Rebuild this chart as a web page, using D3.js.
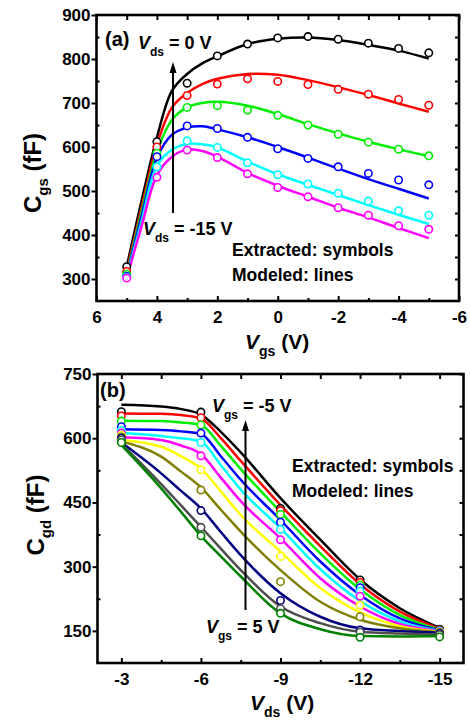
<!DOCTYPE html>
<html>
<head>
<meta charset="utf-8">
<script src="https://cdn.jsdelivr.net/npm/d3@7"></script>
<style>
  body { margin: 0; background: #fff; }
  svg { display: block; font-family: "Liberation Sans", Arial, sans-serif; font-weight: bold; }
</style>
</head>
<body>
<svg id="fig" width="470" height="721"></svg>
<script>
// ---------- (a) Cgs versus Vgs, one curve per Vds ----------
const vgsPoints = [5, 4, 3, 2, 1, 0, -1, -2, -3, -4, -5];
const vgsModelGrid = [5, 4.5, 4, 3.5, 3, 2.5, 2, 1, 0, -1, -2, -3, -4, -5];
const vdsLevels = [0, -3, -6, -9, -12, -15];
const cgsColors = ["#000000", "#ff0000", "#00ee00", "#0000ff", "#00ffff", "#ff00ff"];

// extracted Cgs (fF) at vgsPoints
const cgsExtVds0   = [328, 612, 745, 807, 834, 848, 851, 845, 836, 824, 814];
const cgsExtVds3   = [317, 600, 717, 743, 755, 749, 742, 731, 720, 708, 695];
const cgsExtVds6   = [311, 586, 690, 694, 684, 672, 650, 629, 611, 595, 580];
const cgsExtVds9   = [306, 578, 648, 642, 622, 596, 574, 555, 540, 525, 514];
const cgsExtVds12  = [304, 555, 614, 599, 564, 537, 516, 495, 477, 455, 445];
const cgsExtVds15  = [302, 531, 593, 576, 539, 508, 487, 462, 445, 421, 413];

// modeled Cgs (fF) at vgsModelGrid
const cgsModVds0   = [328, 480, 622, 728, 766, 790, 806, 834, 846, 849, 843, 832, 819, 801];
const cgsModVds3   = [317, 465, 605, 690, 723, 743, 755, 766, 764, 752, 736, 718, 699, 680];
const cgsModVds6   = [311, 455, 589, 662, 690, 700, 703, 694, 675, 652, 631, 612, 595, 579];
const cgsModVds9   = [307, 445, 575, 628, 644, 647, 640, 622, 600, 576, 551, 527, 505, 483];
const cgsModVds12  = [304, 433, 557, 594, 607, 606, 599, 567, 538, 514, 491, 468, 446, 425];
const cgsModVds15  = [302, 422, 536, 578, 594, 591, 578, 541, 512, 487, 462, 440, 416, 393];

const cgsExtracted = [cgsExtVds0, cgsExtVds3, cgsExtVds6, cgsExtVds9, cgsExtVds12, cgsExtVds15];
const cgsModeled   = [cgsModVds0, cgsModVds3, cgsModVds6, cgsModVds9, cgsModVds12, cgsModVds15];

const cgsXMajor = [6, 4, 2, 0, -2, -4, -6];
const cgsXMinor = [5, 3, 1, -1, -3, -5];
const cgsYMajor = [300, 400, 500, 600, 700, 800, 900];
const cgsYMinor = [350, 450, 550, 650, 750, 850];

// ---------- (b) Cgd versus Vds, one curve per Vgs ----------
const vdsPoints = [-3, -6, -9, -12, -15];
const vdsModelGrid = [-3, -4.5, -5.25, -6, -6.75, -7.5, -9, -10.5, -12, -13.5, -15];
const vgsLevels = [-5, -4, -3, -2, -1, 0, 1, 2, 3, 4, 5];
const cgdColors = ["#000000", "#ff0000", "#00ee00", "#0000ff", "#00ffff", "#ff00ff",
                   "#ffff00", "#808000", "#000080", "#4d4d4d", "#008000"];

// extracted Cgd (fF) at vdsPoints
const cgdExtVgsM5 = [662, 661, 436, 269, 154];
const cgdExtVgsM4 = [652, 648, 431, 263, 152];
const cgdExtVgsM3 = [640, 631, 422, 257, 151];
const cgdExtVgsM2 = [627, 612, 404, 251, 150];
const cgdExtVgsM1 = [618, 590, 387, 243, 149];
const cgdExtVgs0  = [612, 559, 363, 231, 148];
const cgdExtVgs1  = [607, 526, 324, 210, 147];
const cgdExtVgs2  = [603, 479, 265, 183, 146];
const cgdExtVgs3  = [600, 431, 221, 152, 144];
const cgdExtVgs4  = [596, 392, 202, 147, 141];
const cgdExtVgs5  = [590, 372, 191, 135, 136];

// modeled Cgd (fF) at vdsModelGrid
const cgdModVgsM5 = [678, 674, 668, 655, 615, 567, 460, 363, 270, 203, 157];
const cgdModVgsM4 = [658, 657, 654, 646, 600, 547, 444, 348, 259, 195, 155];
const cgdModVgsM3 = [641, 640, 637, 631, 582, 528, 428, 331, 247, 187, 153];
const cgdModVgsM2 = [621, 619, 616, 610, 558, 503, 409, 312, 234, 179, 151];
const cgdModVgsM1 = [612, 605, 600, 592, 537, 480, 390, 294, 220, 172, 150];
const cgdModVgs0  = [602, 596, 583, 563, 508, 453, 366, 273, 207, 166, 149];
const cgdModVgs1  = [596, 580, 558, 529, 476, 421, 335, 250, 193, 161, 148];
const cgdModVgs2  = [592, 557, 522, 485, 433, 382, 292, 218, 176, 156, 147];
const cgdModVgs3  = [590, 518, 477, 436, 381, 327, 238, 183, 156, 150, 146];
const cgdModVgs4  = [587, 493, 443, 393, 342, 292, 207, 168, 148, 144, 142];
const cgdModVgs5  = [584, 483, 428, 372, 324, 277, 191, 154, 138, 137, 138];

const cgdExtracted = [cgdExtVgsM5, cgdExtVgsM4, cgdExtVgsM3, cgdExtVgsM2, cgdExtVgsM1, cgdExtVgs0,
                      cgdExtVgs1, cgdExtVgs2, cgdExtVgs3, cgdExtVgs4, cgdExtVgs5];
const cgdModeled   = [cgdModVgsM5, cgdModVgsM4, cgdModVgsM3, cgdModVgsM2, cgdModVgsM1, cgdModVgs0,
                      cgdModVgs1, cgdModVgs2, cgdModVgs3, cgdModVgs4, cgdModVgs5];

const cgdXMajor = [-3, -6, -9, -12, -15];
const cgdXMinor = [-4.5, -7.5, -10.5, -13.5];
const cgdYMajor = [150, 300, 450, 600, 750];
const cgdYMinor = [225, 375, 525, 675];

// ---------- drawing ----------
const svg = d3.select("#fig");
const TICK_FONT = 17;

function frame(x, y, xMajor, xMinor, yMajor, yMinor) {
  const [xl, xr] = x.range();
  const [yb, yt] = y.range();
  const g = svg.append("g");
  const fmt = d => String(d);
  const style = sel => {
    sel.select(".domain").remove();
    sel.selectAll(".tick line").attr("stroke-width", 2);
    sel.attr("font-family", null).attr("font-size", TICK_FONT);
  };
  // left: labelled outward majors, inward minors
  g.append("g").attr("transform", `translate(${xl},0)`)
    .call(d3.axisLeft(y).tickValues(yMajor).tickSizeInner(5).tickSizeOuter(0).tickPadding(1).tickFormat(fmt))
    .call(style);
  g.append("g").attr("transform", `translate(${xl},0)`)
    .call(d3.axisRight(y).tickValues(yMinor).tickSizeInner(3).tickSizeOuter(0).tickFormat(""))
    .call(style);
  // bottom: inward ticks, labels below
  g.append("g").attr("transform", `translate(0,${yb})`)
    .call(d3.axisBottom(x).tickValues(xMajor).tickSizeInner(-5).tickSizeOuter(0).tickPadding(10).tickFormat(fmt))
    .call(style);
  g.append("g").attr("transform", `translate(0,${yb})`)
    .call(d3.axisTop(x).tickValues(xMinor).tickSizeInner(3).tickSizeOuter(0).tickFormat(""))
    .call(style);
  // top and right: inward ticks only
  g.append("g").attr("transform", `translate(0,${yt})`)
    .call(d3.axisBottom(x).tickValues(xMajor.concat(xMinor)).tickSizeInner(5).tickSizeOuter(0).tickFormat(""))
    .call(style);
  g.append("g").attr("transform", `translate(${xr},0)`)
    .call(d3.axisLeft(y).tickValues(yMajor.concat(yMinor)).tickSizeInner(4).tickSizeOuter(0).tickFormat(""))
    .call(style);
  g.append("rect")
    .attr("x", xl).attr("y", yt).attr("width", xr - xl).attr("height", yb - yt)
    .attr("fill", "none").attr("stroke", "#000").attr("stroke-width", 2.6);
}

function series(x, y, grid, modeled, pts, extracted, colors, curve) {
  const line = d3.line()
    .x(d => x(d[0])).y(d => y(d[1]))
    .curve(curve);
  const g = svg.append("g");
  modeled.forEach((vals, i) => {
    g.append("path")
      .attr("d", line(grid.map((v, k) => [v, vals[k]])))
      .attr("fill", "none").attr("stroke", colors[i]).attr("stroke-width", 2.5);
  });
  extracted.forEach((vals, i) => {
    g.selectAll(null).data(pts.map((v, k) => [v, vals[k]])).join("circle")
      .attr("cx", d => x(d[0])).attr("cy", d => y(d[1])).attr("r", 3.7)
      .attr("fill", "#fff").attr("stroke", colors[i]).attr("stroke-width", 1.6);
  });
}

function vText(xPos, yPos, sub, rest, size, subSize) {
  const t = svg.append("text").attr("x", xPos).attr("y", yPos).attr("font-size", size);
  t.append("tspan").attr("font-style", "italic").text("V");
  t.append("tspan").attr("dy", 7).attr("font-size", subSize).text(sub);
  t.append("tspan").attr("dy", -7).text(rest);
}

function yTitle(xPos, yPos, sub) {
  const t = svg.append("text")
    .attr("transform", `translate(${xPos},${yPos}) rotate(-90)`)
    .attr("text-anchor", "middle").attr("font-size", 24);
  t.append("tspan").text("C");
  t.append("tspan").attr("dy", 7).attr("font-size", 15).text(sub);
  t.append("tspan").attr("dy", -7).text(" (fF)");
}

function arrow(xPos, yFrom, yTip) {
  svg.append("line").attr("x1", xPos).attr("x2", xPos).attr("y1", yFrom).attr("y2", yTip + 8)
    .attr("stroke", "#000").attr("stroke-width", 2);
  svg.append("path")
    .attr("d", `M${xPos},${yTip} L${xPos - 3.5},${yTip + 11} L${xPos + 3.5},${yTip + 11} Z`)
    .attr("fill", "#000");
}

// panel (a)
const xA = d3.scaleLinear().domain([6, -6]).range([96.5, 459]);
const yA = d3.scaleLinear().domain([250, 900]).range([301, 15]);
frame(xA, yA, cgsXMajor, cgsXMinor, cgsYMajor, cgsYMinor);
series(xA, yA, vgsModelGrid, cgsModeled, vgsPoints, cgsExtracted, cgsColors, d3.curveCatmullRom.alpha(0.5));

svg.append("text").attr("x", 105).attr("y", 46).attr("font-size", 20).text("(a)");
vText(138, 49, "ds", ` = ${vdsLevels[0]} V`, 18, 12);
vText(143, 235, "ds", ` = ${vdsLevels[vdsLevels.length - 1]} V`, 18, 12);
arrow(173, 213, 62);
svg.append("text").attr("x", 232).attr("y", 256).attr("font-size", 17.5).text("Extracted: symbols");
svg.append("text").attr("x", 232).attr("y", 281).attr("font-size", 17.5).text("Modeled: lines");
vText(245, 349, "gs", " (V)", 21, 14);
yTitle(41, 173, "gs");

// panel (b)
const xB = d3.scaleLinear().domain([-2.1, -15.9]).range([97.5, 463.5]);
const yB = d3.scaleLinear().domain([75, 750]).range([663, 374]);
frame(xB, yB, cgdXMajor, cgdXMinor, cgdYMajor, cgdYMinor);
series(xB, yB, vdsModelGrid, cgdModeled, vdsPoints, cgdExtracted, cgdColors, d3.curveMonotoneX);

svg.append("text").attr("x", 100).attr("y", 397).attr("font-size", 20).text("(b)");
vText(212, 412, "gs", ` = ${vgsLevels[0]} V`, 18, 12);
vText(206, 633, "gs", ` = ${vgsLevels[vgsLevels.length - 1]} V`, 18, 12);
arrow(245.5, 610, 420);
svg.append("text").attr("x", 292).attr("y", 472).attr("font-size", 17.5).text("Extracted: symbols");
svg.append("text").attr("x", 292).attr("y", 497).attr("font-size", 17.5).text("Modeled: lines");
vText(250, 710, "ds", " (V)", 21, 14);
yTitle(44, 515, "gd");
</script>
</body>
</html>
